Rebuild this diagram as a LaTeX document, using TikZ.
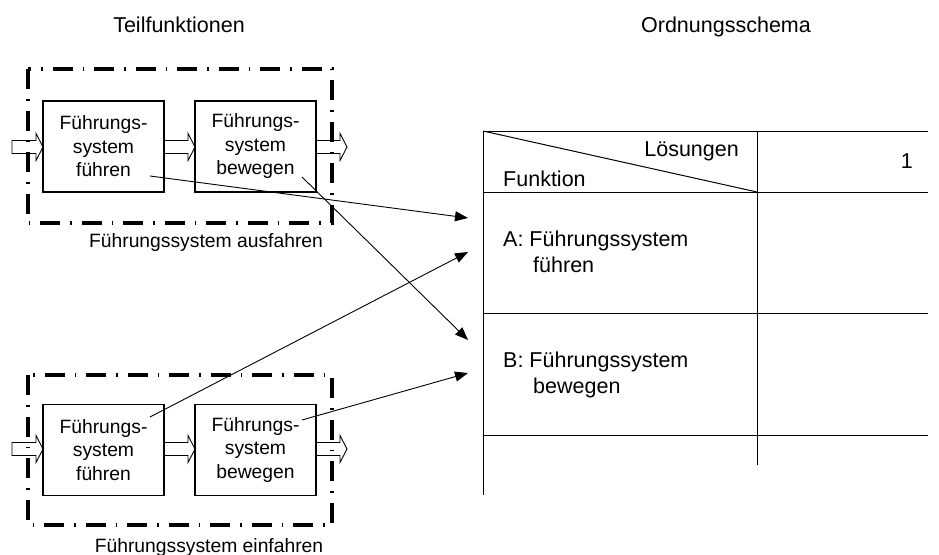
\documentclass[tikz,border=0pt]{standalone}
\usepackage{fontspec}
\setmainfont{Liberation Sans}
\usetikzlibrary{arrows.meta}

\tikzset{
  every node/.style={font=\fontsize{19.3}{23.5}\selectfont, inner sep=0pt},
  bigtext/.style={font=\fontsize{21.5}{26}\selectfont},
  funcbox/.style={draw, line width=1.3pt, minimum width=121pt, minimum height=91pt,
                  align=center, fill=white},
  groupframe/.style={line width=3.2pt, dash pattern=on 20pt off 10pt on 1.5pt off 10pt},
  flowarrow/.style={draw, line width=0.9pt, fill=white, line join=miter},
  link/.style={line width=0.9pt, -{Triangle[length=13pt,width=10pt]}},
  grid/.style={line width=1pt},
  cell/.style={bigtext, anchor=base west},
}

% hollow block arrow: start x, tip x, centre y
\newcommand\blockarr[3]{%
  \path[flowarrow] (#1,#3-6.5) -- (#2-7,#3-6.5) -- (#2-7,#3-13.5) -- (#2,#3)
    -- (#2-7,#3+13.5) -- (#2-7,#3+6.5) -- (#1,#3+6.5) -- cycle;}

\begin{document}
\begin{tikzpicture}[x=1pt,y=-1pt]
\useasboundingbox (0,0) rectangle (939,554);

% headings
\node[bigtext, anchor=base] (h1) at (179,32) {Teilfunktionen};
\node[bigtext, anchor=base] (h2) at (726,32) {Ordnungsschema};

% ---------- upper group: extend guide system ----------
\blockarr{12}{43}{147}
\blockarr{164}{195}{147}
\blockarr{316}{347}{147}
\node[funcbox] (a1) at (103.5,146.5) {Führungs-\\system\\führen};
\node[funcbox] (a2) at (255.5,146.5) {Führungs-\\system\\bewegen};
\draw[groupframe] (28,69) rectangle (332,223);
\node[anchor=base] (ga) at (206,247) {Führungssystem ausfahren};

% ---------- lower group: retract guide system ----------
\blockarr{12}{43}{449}
\blockarr{164}{195}{449}
\blockarr{316}{347}{449}
\node[funcbox] (b1) at (103.5,450) {Führungs-\\system\\führen};
\node[funcbox] (b2) at (255.5,450) {Führungs-\\system\\bewegen};
\draw[groupframe] (28,375) rectangle (332,525);
\node[anchor=base] (gb) at (209,552) {Führungssystem einfahren};

% ---------- morphological chart ----------
\coordinate (tl) at (483,131);
\coordinate (tr) at (928,131);
\coordinate (cd) at (757,131);
\draw[grid] (483,495) -- (tl) -- (tr);
\draw[grid] (cd) -- (757,465);
\draw[grid] (483,192) -- (928,192);
\draw[grid] (483,313) -- (928,313);
\draw[grid] (483,435) -- (928,435);
\draw[grid] (tl) -- (757,192);

\node[cell, anchor=base east] (sol) at (739,156) {Lösungen};
\node[cell] (fn) at (503,186) {Funktion};
\node[cell, anchor=base east] (one) at (913,168) {1};
\node[cell] (ra1) at (503,246) {A: Führungssystem};
\node[cell] (ra2) at (533,272) {führen};
\node[cell] (rb1) at (503,367) {B: Führungssystem};
\node[cell] (rb2) at (533,393) {bewegen};

% targets in the function column
\coordinate (tA1) at (468,218);
\coordinate (tA2) at (468,252);
\coordinate (tB1) at (468,340);
\coordinate (tB2) at (468,373);

% assignments of sub-functions to chart rows
\coordinate (sa1) at (150,176);
\coordinate (sa2) at (302,177);
\coordinate (sb1) at (150,417);
\coordinate (sb2) at (302,420);
\draw[link] (sa1) -- (tA1);
\draw[link] (sa2) -- (tB1);
\draw[link] (sb1) -- (tA2);
\draw[link] (sb2) -- (tB2);
\end{tikzpicture}
\end{document}
